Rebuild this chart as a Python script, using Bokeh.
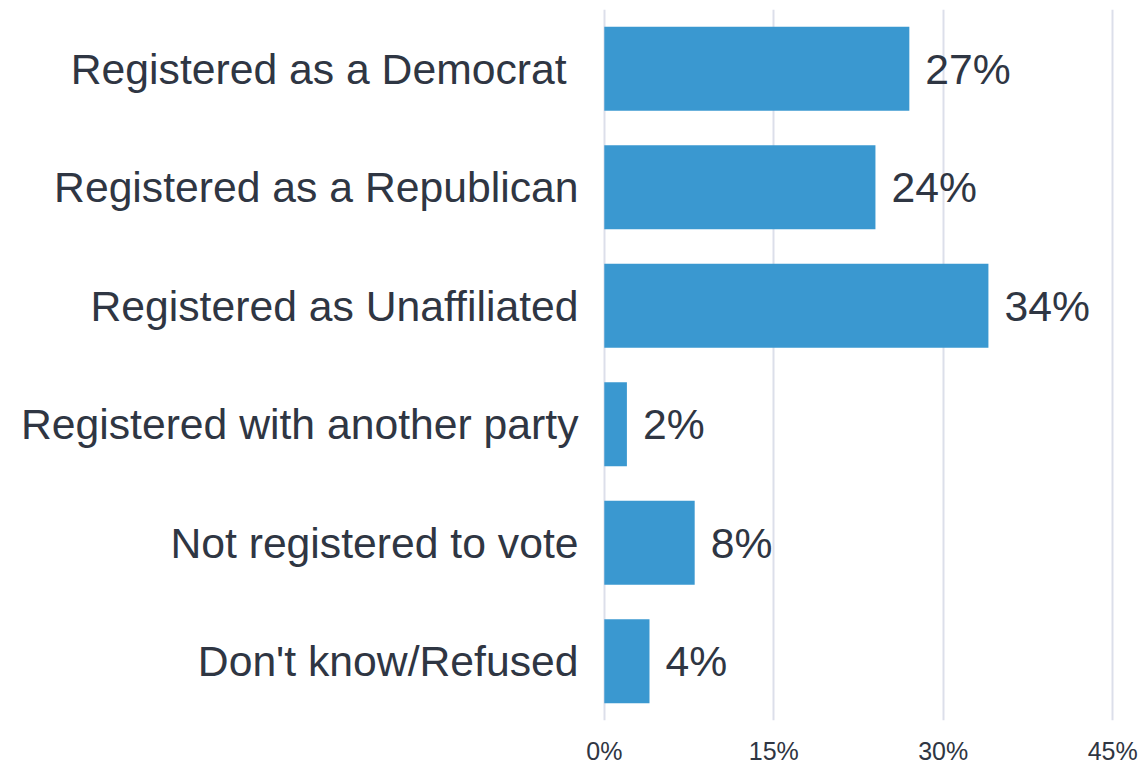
from bokeh.plotting import figure
from bokeh.models import ColumnDataSource, FixedTicker, CustomJSTickFormatter
from bokeh.core.properties import value
from bokeh.embed import file_html
from bokeh.resources import INLINE

categories = [
    "Registered as a Democrat ",
    "Registered as a Republican",
    "Registered as Unaffiliated",
    "Registered with another party",
    "Not registered to vote",
    "Don't know/Refused",
]
values = [27, 24, 34, 2, 8, 4]
tick_values = [0, 15, 30, 45]

labels = [f"{v}%" for v in values]
src = ColumnDataSource(dict(cat=categories, val=values, lab=labels))

FONT = "Liberation Sans"
TEXT = "#2f3643"

p = figure(
    width=1141, height=767,
    y_range=list(reversed(categories)),
    x_range=(-0.16, 45.16),
    output_backend="svg", toolbar_location=None,
    min_border_left=602, min_border_right=27, min_border_top=9, min_border_bottom=44,
)
p.y_range.range_padding = 0
p.outline_line_color = None
p.background_fill_color = "white"
p.border_fill_color = "white"

p.hbar(y="cat", right="val", left=0, height=0.71, source=src,
       fill_color="#3a98d0", line_color=None)

p.text(x="val", y="cat", text="lab", source=src, x_offset=16,
       text_baseline="middle", text_align="left",
       text_font=value(FONT), text_font_size="42.7px", text_color=TEXT)

p.xaxis.ticker = FixedTicker(ticks=tick_values)
p.xaxis.formatter = CustomJSTickFormatter(code="return tick + '%';")
p.xaxis.axis_line_color = None
p.xaxis.major_tick_line_color = None
p.xaxis.minor_tick_line_color = None
p.xaxis.major_tick_out = 0
p.xaxis.major_tick_in = 0
p.xaxis.major_label_standoff = 16
p.xaxis.major_label_text_font = FONT
p.xaxis.major_label_text_font_size = "25px"
p.xaxis.major_label_text_color = TEXT

p.yaxis.axis_line_color = None
p.yaxis.major_tick_line_color = None
p.yaxis.minor_tick_line_color = None
p.yaxis.major_tick_out = 0
p.yaxis.major_tick_in = 0
p.yaxis.major_label_standoff = 24
p.yaxis.major_label_text_font = FONT
p.yaxis.major_label_text_font_size = "42.7px"
p.yaxis.major_label_text_color = TEXT

p.xgrid.grid_line_color = "#dcdfea"
p.xgrid.grid_line_width = 2
p.ygrid.grid_line_color = None

open("out.html", "w").write(file_html(p, INLINE))
